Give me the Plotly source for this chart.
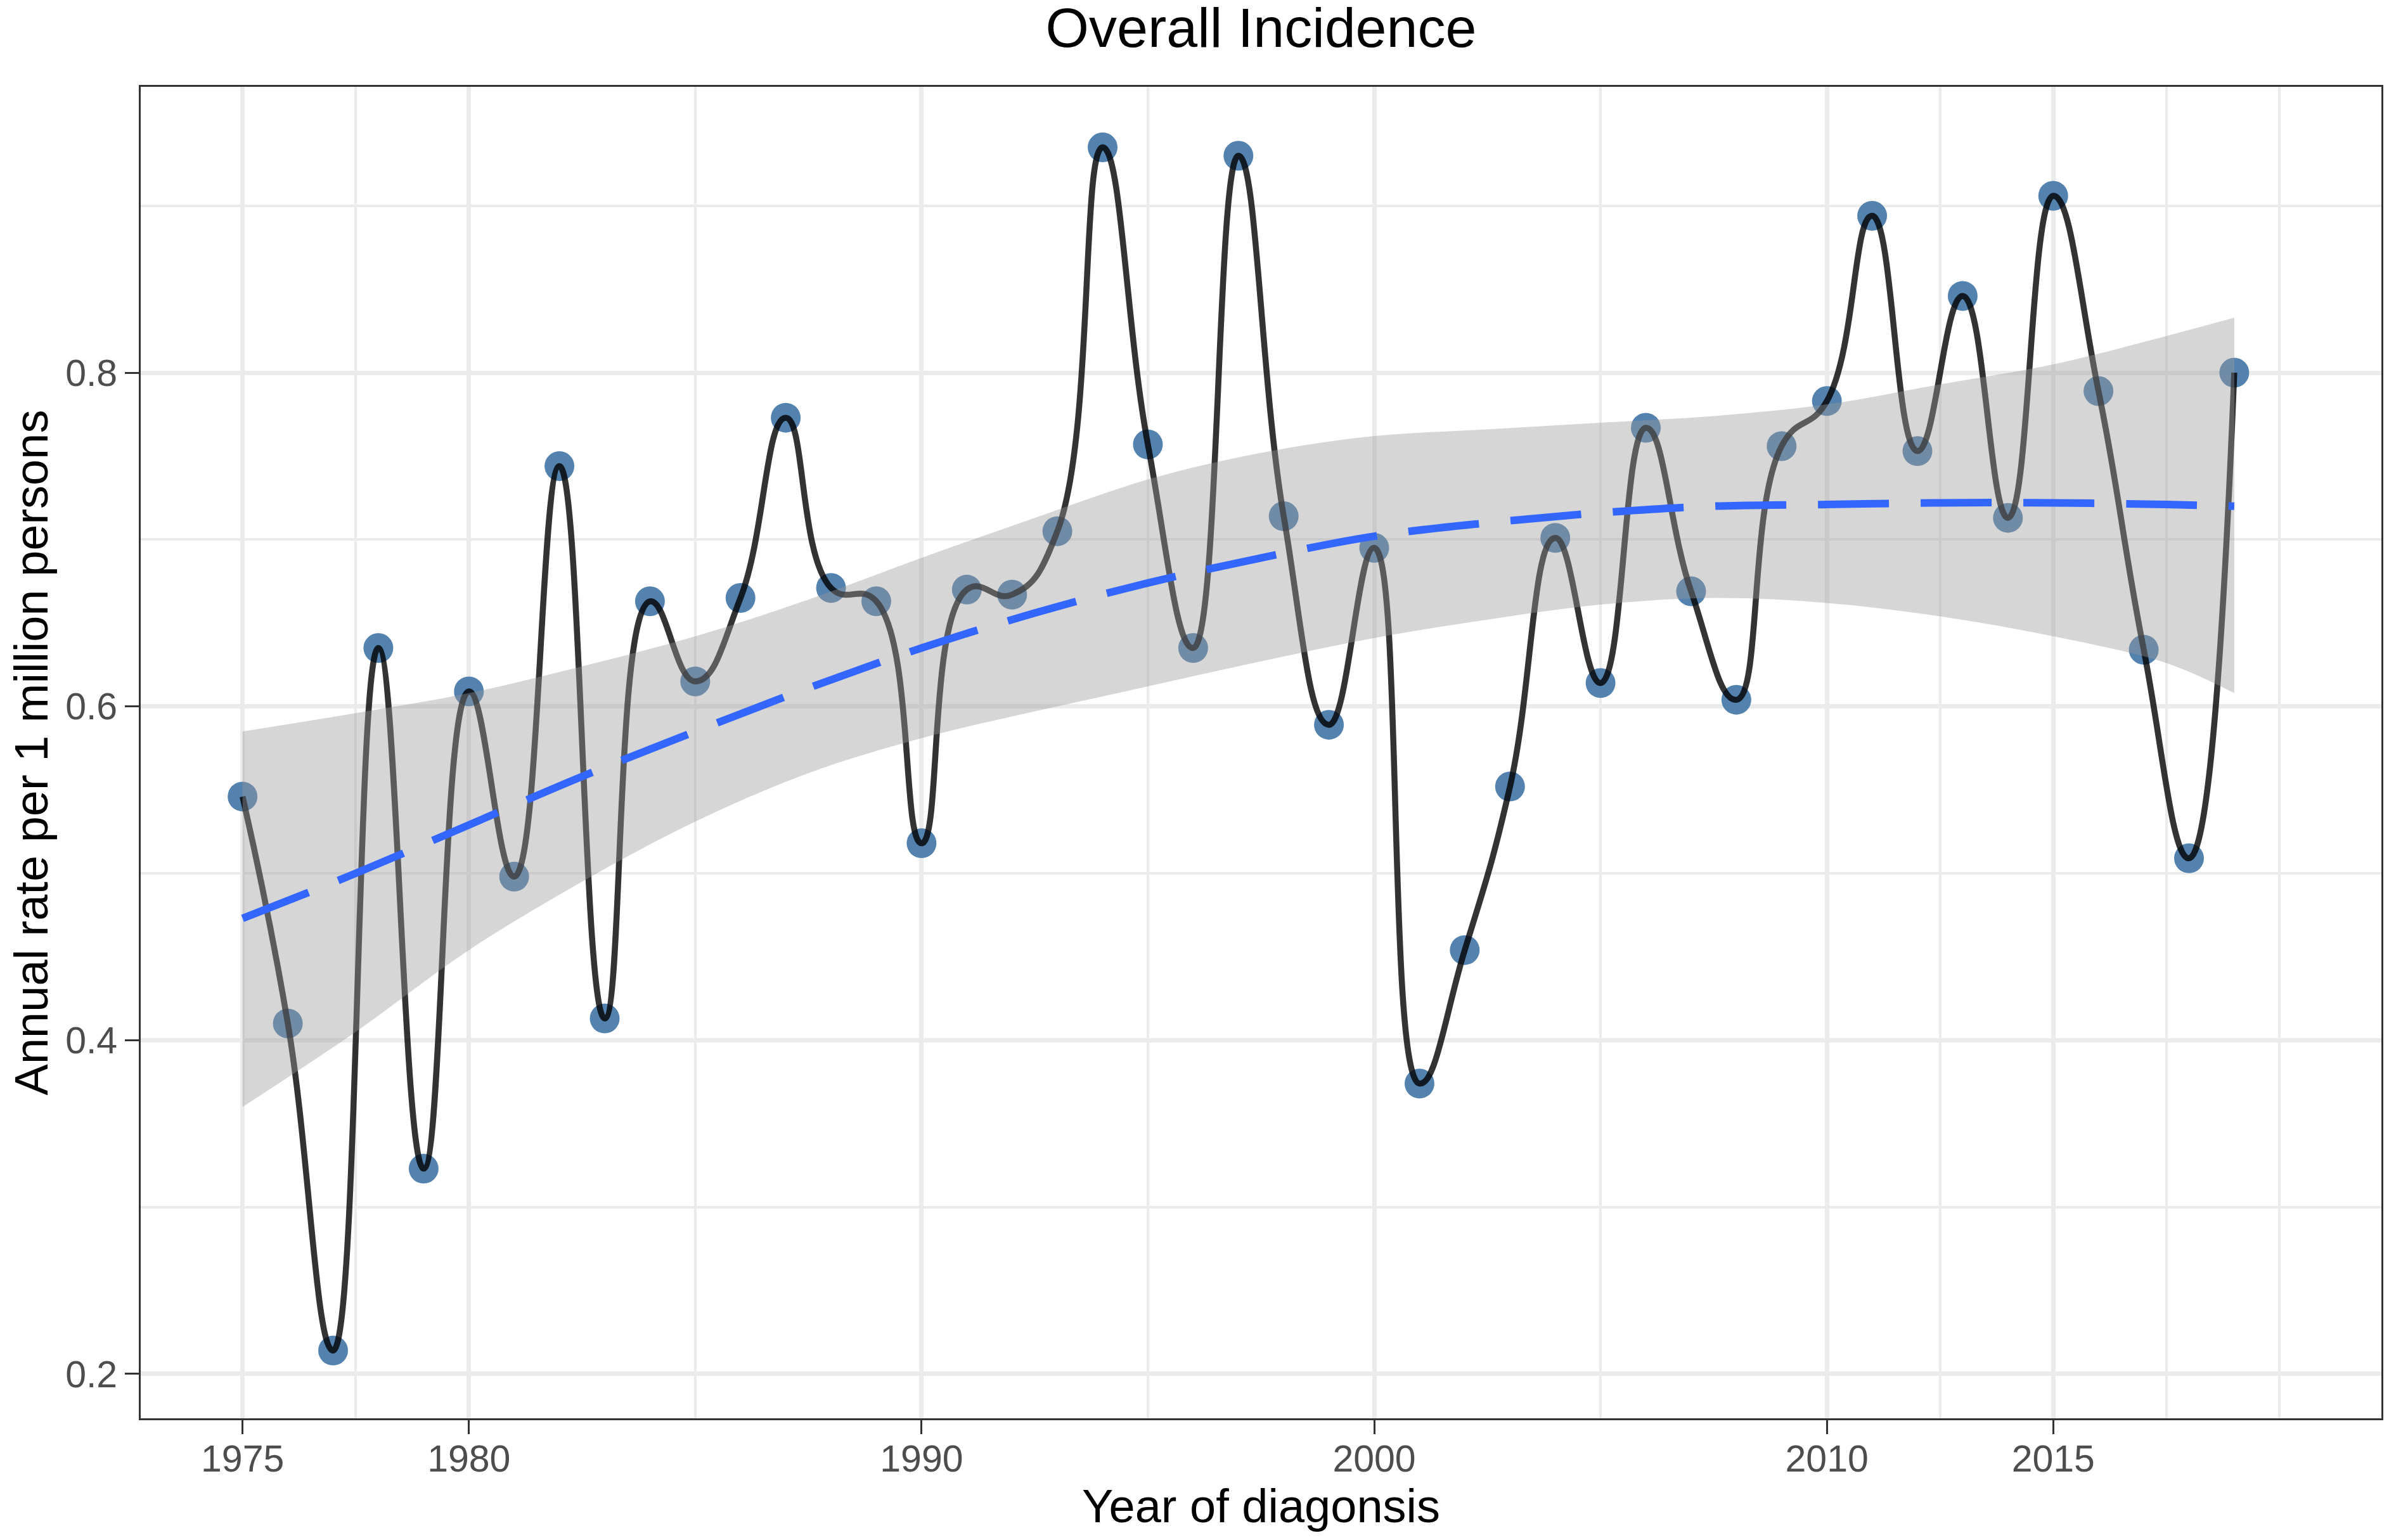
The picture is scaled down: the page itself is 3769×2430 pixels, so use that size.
import plotly.graph_objects as go

# observed annual rates
years = list(range(1975, 2020))
rate = [0.546, 0.410, 0.214, 0.635, 0.323, 0.609, 0.498, 0.744, 0.413, 0.663,
        0.615, 0.665, 0.773, 0.671, 0.663, 0.518, 0.670, 0.667, 0.705, 0.935,
        0.757, 0.635, 0.930, 0.714, 0.589, 0.695, 0.374, 0.454, 0.552, 0.701,
        0.614, 0.767, 0.669, 0.604, 0.756, 0.783, 0.894, 0.753, 0.846, 0.713,
        0.906, 0.789, 0.634, 0.509, 0.800]

# loess trend with confidence band
fit_years = [1975, 1977.5, 1980, 1982.5, 1985, 1987.5, 1990, 1992.5, 1995, 1997.5,
             2000, 2002.5, 2005, 2007.5, 2010, 2012.5, 2015, 2017.5, 2019]
fit = [0.473, 0.500, 0.529, 0.558, 0.585, 0.611, 0.635, 0.656, 0.674, 0.689,
       0.702, 0.710, 0.716, 0.720, 0.721, 0.722, 0.722, 0.721, 0.720]
fit_upper = [0.585, 0.596, 0.608, 0.624, 0.642, 0.664, 0.689, 0.713, 0.736, 0.752,
             0.762, 0.766, 0.770, 0.774, 0.781, 0.793, 0.805, 0.822, 0.833]
fit_lower = [0.360, 0.405, 0.454, 0.495, 0.531, 0.560, 0.581, 0.597, 0.612, 0.627,
             0.641, 0.652, 0.661, 0.665, 0.662, 0.654, 0.642, 0.626, 0.608]

x_ticks = [1975, 1980, 1990, 2000, 2010, 2015]
x_minor = [1977.5, 1985, 1995, 2005, 2012.5, 2017.5, 2020]
y_ticks = [0.2, 0.4, 0.6, 0.8]
y_minor = [0.3, 0.5, 0.7, 0.9]

FONT = "Liberation Sans, Arial, sans-serif"
GRID = "#EBEBEB"

fig = go.Figure()

fig.add_trace(go.Scatter(
    x=years, y=rate, mode="markers",
    marker=dict(color="#5482AF", size=47, line=dict(width=0)),
    showlegend=False, hoverinfo="skip"
))

fig.add_trace(go.Scatter(
    x=years, y=rate, mode="lines",
    line=dict(color="rgba(0,0,0,0.8)", width=9.5, shape="spline", smoothing=1.3),
    showlegend=False
))

fig.add_trace(go.Scatter(
    x=fit_years, y=fit_lower, mode="lines",
    line=dict(width=0, shape="spline"),
    showlegend=False, hoverinfo="skip"
))
fig.add_trace(go.Scatter(
    x=fit_years, y=fit_upper, mode="lines", fill="tonexty",
    fillcolor="rgba(153,153,153,0.4)",
    line=dict(width=0, shape="spline"),
    showlegend=False, hoverinfo="skip"
))

fig.add_trace(go.Scatter(
    x=fit_years, y=fit, mode="lines",
    line=dict(color="#3366FF", width=12, dash="112px,50px", shape="spline"),
    showlegend=False
))

axis_common = dict(
    showline=True, mirror=True, linecolor="#333333", linewidth=3,
    ticks="outside", ticklen=22, tickwidth=3, tickcolor="#333333",
    tickfont=dict(family=FONT, size=59, color="#4D4D4D"),
    showgrid=True, gridcolor=GRID, gridwidth=6.5, zeroline=False,
)

fig.update_xaxes(
    range=[1972.75, 2022.25], tickmode="array", tickvals=x_ticks,
    ticklabelstandoff=-12,
    minor=dict(tickmode="array", tickvals=x_minor, showgrid=True,
               gridcolor=GRID, gridwidth=3.5, ticks=""),
    title=dict(text="Year of diagonsis", font=dict(family=FONT, size=74, color="black"),
               standoff=6),
    **axis_common
)
fig.update_yaxes(
    range=[0.1734, 0.9713], tickmode="array", tickvals=y_ticks,
    ticktext=["0.2", "0.4", "0.6", "0.8"],
    minor=dict(tickmode="array", tickvals=y_minor, showgrid=True,
               gridcolor=GRID, gridwidth=3.5, ticks=""),
    title=dict(text="Annual rate per 1 million persons",
               font=dict(family=FONT, size=74, color="black"), standoff=32),
    **axis_common
)

# the page body adds an 8px margin, so the figure is sized to fit inside it
fig.update_layout(
    width=3753, height=2414,
    margin=dict(l=214, r=1, t=129, b=184),
    plot_bgcolor="white", paper_bgcolor="white",
    title=dict(text="Overall Incidence", x=0.5, xref="paper", xanchor="center",
               y=1 - 35 / 2414, yref="container", yanchor="middle",
               font=dict(family=FONT, size=88, color="black")),
    showlegend=False,
)

fig.write_html("out.html")
